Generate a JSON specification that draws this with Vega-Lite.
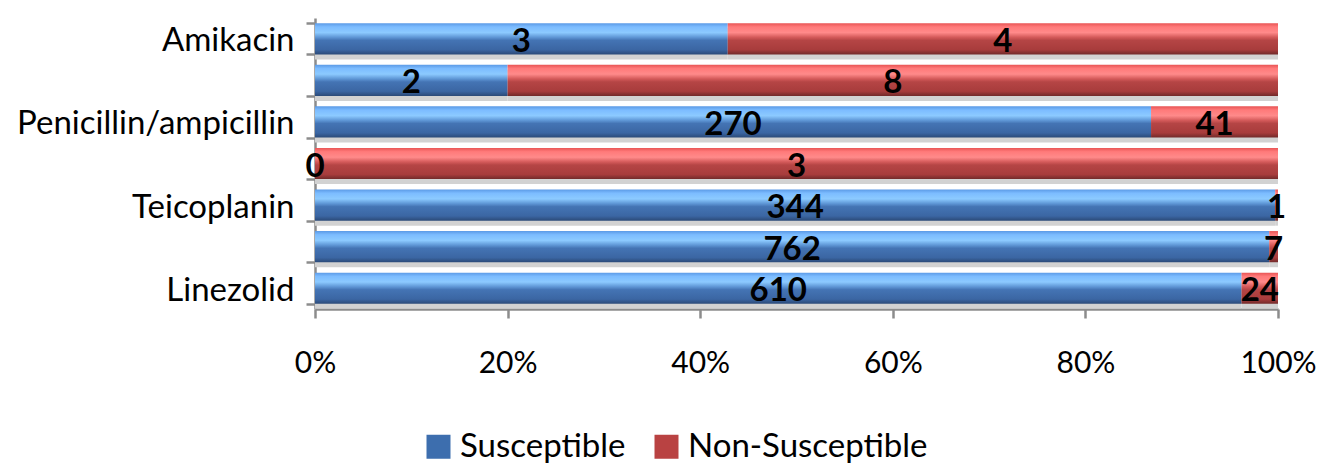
{
  "$schema": "https://vega.github.io/schema/vega-lite/v6.json",
  "autosize": {"type": "none"},
  "padding": {"left": 315, "top": 18, "right": 47, "bottom": 159},
  "width": 963,
  "height": 291,
  "background": "white",
  "config": {"view": {"stroke": null}, "font": "Lato"},
  "data": {
    "values": [
      {"cat": "Amikacin", "series": "Susceptible", "order": 0, "count": 3},
      {"cat": "Amikacin", "series": "Non-Susceptible", "order": 1, "count": 4},
      {"cat": "Gentamicin", "series": "Susceptible", "order": 0, "count": 2},
      {"cat": "Gentamicin", "series": "Non-Susceptible", "order": 1, "count": 8},
      {"cat": "Penicillin/ampicillin", "series": "Susceptible", "order": 0, "count": 270},
      {"cat": "Penicillin/ampicillin", "series": "Non-Susceptible", "order": 1, "count": 41},
      {"cat": "Tigecycline", "series": "Susceptible", "order": 0, "count": 0},
      {"cat": "Tigecycline", "series": "Non-Susceptible", "order": 1, "count": 3},
      {"cat": "Teicoplanin", "series": "Susceptible", "order": 0, "count": 344},
      {"cat": "Teicoplanin", "series": "Non-Susceptible", "order": 1, "count": 1},
      {"cat": "Vancomycin", "series": "Susceptible", "order": 0, "count": 762},
      {"cat": "Vancomycin", "series": "Non-Susceptible", "order": 1, "count": 7},
      {"cat": "Linezolid", "series": "Susceptible", "order": 0, "count": 610},
      {"cat": "Linezolid", "series": "Non-Susceptible", "order": 1, "count": 24}
    ]
  },
  "transform": [
    {"stack": "count", "groupby": ["cat"], "sort": [{"field": "order"}], "offset": "normalize", "as": ["s0", "s1"]}
  ],
  "encoding": {
    "y": {
      "field": "cat",
      "type": "nominal",
      "sort": ["Amikacin", "Gentamicin", "Penicillin/ampicillin", "Tigecycline", "Teicoplanin", "Vancomycin", "Linezolid"],
      "scale": {"paddingInner": 0.25, "paddingOuter": 0.125},
      "axis": {
        "title": null,
        "tickBand": "extent",
        "labelExpr": "indexof(['Amikacin','Penicillin/ampicillin','Teicoplanin','Linezolid'], datum.value) >= 0 ? datum.value : ''",
        "labelFont": "Lato",
        "labelFontSize": 33,
        "labelColor": "black",
        "labelPadding": 12,
        "labelLimit": 400,
        "labelOffset": 2,
        "domainColor": "#8c8c8c",
        "domainWidth": 2.5,
        "tickColor": "#8c8c8c",
        "tickWidth": 2.5,
        "tickSize": 9
      }
    }
  },
  "layer": [
    {
      "mark": {"type": "bar", "fill": "#d2d2d2", "yOffset": 5, "y2Offset": 5},
      "encoding": {
        "x": {
          "field": "s0",
          "type": "quantitative",
          "scale": {"domain": [0, 1]},
          "axis": {
            "title": null,
            "format": "%",
            "values": [0, 0.2, 0.4, 0.6, 0.8, 1],
            "grid": false,
            "labelFont": "Lato",
            "labelFontSize": 30,
            "labelColor": "black",
            "labelPadding": 30,
            "labelFlush": false,
            "domainColor": "#8c8c8c",
            "domainWidth": 2.5,
            "tickColor": "#8c8c8c",
            "tickWidth": 2.5,
            "tickSize": 9
          }
        },
        "x2": {"field": "s1"}
      }
    },
    {
      "transform": [{"filter": "datum.series === 'Susceptible'"}],
      "mark": {
        "type": "bar",
        "fill": {"gradient": "linear", "x1": 0, "y1": 0, "x2": 0, "y2": 1, "stops": [
          {"offset": 0, "color": "#5b9ae6"},
          {"offset": 0.12, "color": "#7cbcff"},
          {"offset": 0.3, "color": "#8ccaff"},
          {"offset": 0.45, "color": "#5f97d6"},
          {"offset": 0.55, "color": "#4474b4"},
          {"offset": 0.85, "color": "#3b66a3"},
          {"offset": 1, "color": "#2b4a78"}
        ]}
      },
      "encoding": {
        "x": {"field": "s0", "type": "quantitative"},
        "x2": {"field": "s1"}
      }
    },
    {
      "transform": [{"filter": "datum.series === 'Non-Susceptible'"}],
      "mark": {
        "type": "bar",
        "fill": {"gradient": "linear", "x1": 0, "y1": 0, "x2": 0, "y2": 1, "stops": [
          {"offset": 0, "color": "#e85454"},
          {"offset": 0.12, "color": "#ff7a7a"},
          {"offset": 0.3, "color": "#ff8a8a"},
          {"offset": 0.45, "color": "#d45a5a"},
          {"offset": 0.55, "color": "#b54545"},
          {"offset": 0.85, "color": "#a83c3c"},
          {"offset": 1, "color": "#722a2a"}
        ]}
      },
      "encoding": {
        "x": {"field": "s0", "type": "quantitative"},
        "x2": {"field": "s1"}
      }
    },
    {
      "mark": {"type": "square", "opacity": 0, "size": 10},
      "encoding": {
        "x": {"field": "s0", "type": "quantitative"},
        "color": {
          "field": "series",
          "type": "nominal",
          "scale": {
            "domain": ["Susceptible", "Non-Susceptible"],
            "range": ["#3d6eae", "#b94242"]
          },
          "legend": {
            "title": null,
            "orient": "none",
            "direction": "horizontal",
            "legendX": 107,
            "legendY": 412,
            "symbolType": "square",
            "symbolSize": 576,
            "symbolOpacity": 1,
            "symbolStrokeWidth": 0,
            "labelFont": "Lato",
            "labelFontSize": 33,
            "labelColor": "black",
            "labelLimit": 400,
            "columnPadding": 24,
            "labelOffset": 5
          }
        }
      }
    },
    {
      "transform": [
        {"fold": ["s0", "s1"], "as": ["k", "v"]},
        {"aggregate": [{"op": "mean", "field": "v", "as": "mid"}], "groupby": ["cat", "series", "count"]}
      ],
      "mark": {"type": "text", "font": "Lato", "fontWeight": "bold", "fontSize": 33, "color": "black", "align": "center", "baseline": "middle", "dy": 3},
      "encoding": {
        "x": {"field": "mid", "type": "quantitative"},
        "text": {"field": "count", "type": "quantitative"}
      }
    }
  ]
}
